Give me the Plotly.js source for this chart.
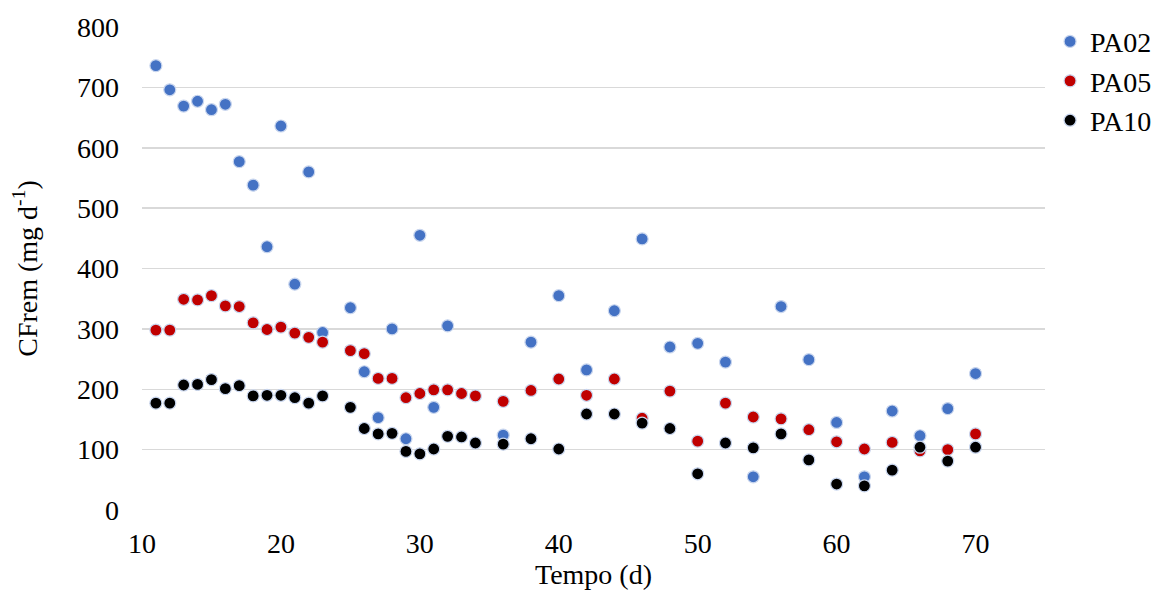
<!DOCTYPE html>
<html>
<head>
<meta charset="utf-8">
<script src="https://cdn.plot.ly/plotly-3.0.1.min.js"></script>
<style>html,body{margin:0;padding:0;background:#fff;}#chart{width:1159px;height:597px;}</style>
</head>
<body>
<div id="chart"></div>
<script>
const seriesNames = ["PA02", "PA05", "PA10"];
const seriesColors = ["#4472C4", "#C00000", "#000000"];

const daysPA02 = [11,12,13,14,15,16,17,18,19,20,21,22,23,25,26,27,28,29,30,31,32,36,38,40,42,44,46,48,50,52,54,56,58,60,62,64,66,68,70];
const valsPA02 = [736,696,669,677,663,672,577,538,436,636,374,560,294,335,229,153,300,118,455,170,305,124,278,355,232,330,449,270,276,245,55,337,249,145,55,164,123,168,226];

const daysPA05 = [11,12,13,14,15,16,17,18,19,20,21,22,23,25,26,27,28,29,30,31,32,33,34,36,38,40,42,44,46,48,50,52,54,56,58,60,62,64,66,68,70];
const valsPA05 = [298,298,349,348,355,338,337,310,299,303,293,286,278,264,259,218,218,186,193,199,199,193,189,180,198,217,190,217,152,197,114,177,154,151,133,113,101,112,98,100,126];

const daysPA10 = [11,12,13,14,15,16,17,18,19,20,21,22,23,25,26,27,28,29,30,31,32,33,34,36,38,40,42,44,46,48,50,52,54,56,58,60,62,64,66,68,70];
const valsPA10 = [177,177,207,208,216,201,206,189,190,190,186,177,189,170,135,126,127,97,93,101,122,121,111,109,118,101,159,159,144,135,60,111,103,126,83,43,40,66,104,81,104];

const xTickVals = [10,20,30,40,50,60,70];
const xTickText = ["10","20","30","40","50","60","70"];

const xs = [daysPA02, daysPA05, daysPA10];
const ys = [valsPA02, valsPA05, valsPA10];

const traces = seriesNames.map((n, i) => ({
  type: "scatter",
  mode: "markers",
  name: n,
  x: xs[i],
  y: ys[i],
  marker: {size: 12, color: seriesColors[i], line: {color: "#c9d6ee", width: 1.2}},
  hoverinfo: "x+y+name"
}));

const font = {family: "'Liberation Serif', 'Times New Roman', serif", size: 28, color: "#000"};

const layout = {
  width: 1159, height: 597,
  margin: {l: 142, r: 114, t: 27, b: 87},
  paper_bgcolor: "#fff", plot_bgcolor: "#fff",
  font: font,
  showlegend: true,
  legend: {xref: "container", yref: "container", x: 0.906, y: 0.972, xanchor: "left", yanchor: "top", font: font,
           traceorder: "normal", bgcolor: "rgba(0,0,0,0)"},
  xaxis: {
    range: [10, 75], tickvals: xTickVals, ticktext: xTickText,
    showgrid: false, zeroline: false, showline: false, ticks: "",
    ticklabelstandoff: 14,
    title: {text: "Tempo (d)", font: font, standoff: 4}
  },
  yaxis: {
    range: [0, 800], dtick: 100, tick0: 0,
    showgrid: true, gridcolor: "#d9d9d9", gridwidth: 1.5,
    zeroline: false, showline: false, ticks: "",
    ticklabelstandoff: 22,
    title: {text: "CFrem (mg d<sup>-1</sup>)", font: font, standoff: 31}
  }
};

Plotly.newPlot("chart", traces, layout, {displayModeBar: false, staticPlot: true});
</script>
</body>
</html>
